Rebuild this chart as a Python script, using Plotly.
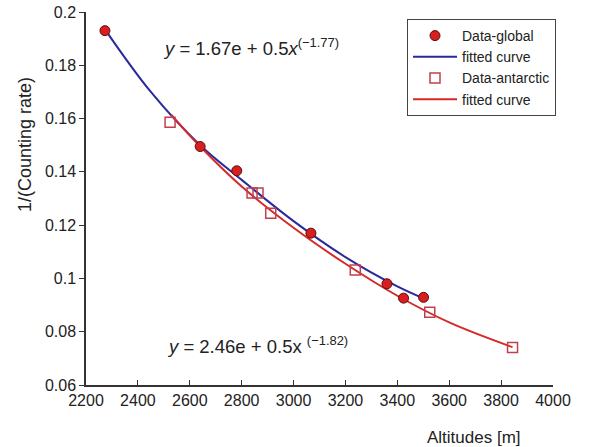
import plotly.graph_objects as go

# Data
global_alt = [2273, 2640, 2781, 3067, 3360, 3424, 3501]
global_val = [0.193, 0.1495, 0.1404, 0.117, 0.098, 0.0926, 0.0929]

antarctic_alt = [2524, 2840, 2863, 2912, 3238, 3525, 3844]
antarctic_val = [0.1586, 0.1321, 0.1321, 0.1245, 0.1032, 0.0873, 0.0741]

fit_global_alt = [2273, 2450, 2640, 2800, 3000, 3200, 3400, 3501]
fit_global_val = [0.1935, 0.170, 0.150, 0.137, 0.1215, 0.108, 0.097, 0.0925]

fit_antarctic_alt = [2528, 2640, 2800, 3000, 3200, 3400, 3600, 3844]
fit_antarctic_val = [0.1615, 0.1495, 0.1345, 0.119, 0.1055, 0.0935, 0.0835, 0.0742]

x_ticks = [2200, 2400, 2600, 2800, 3000, 3200, 3400, 3600, 3800, 4000]
y_ticks = [0.06, 0.08, 0.1, 0.12, 0.14, 0.16, 0.18, 0.2]
y_tick_labels = ["0.06", "0.08", "0.1", "0.12", "0.14", "0.16", "0.18", "0.2"]

BLUE = "#2a2a9c"
RED = "#d42a2a"
SQ = "#c0404e"

fig = go.Figure()
fig.add_trace(go.Scatter(x=fit_global_alt, y=fit_global_val, mode="lines",
                         line=dict(color=BLUE, width=2, shape="spline"),
                         name="fitted curve", legendrank=2))
fig.add_trace(go.Scatter(x=fit_antarctic_alt, y=fit_antarctic_val, mode="lines",
                         line=dict(color=RED, width=2, shape="spline"),
                         name="fitted curve", legendrank=4))
fig.add_trace(go.Scatter(x=antarctic_alt, y=antarctic_val, mode="markers",
                         marker=dict(symbol="square-open", size=10, color=SQ,
                                     line=dict(width=1.5, color=SQ)),
                         name="Data-antarctic", legendrank=3))
fig.add_trace(go.Scatter(x=global_alt, y=global_val, mode="markers",
                         marker=dict(symbol="circle", size=10, color="#d81e1e",
                                     line=dict(width=1, color="#5a1010")),
                         name="Data-global", legendrank=1))

font_family = "Liberation Sans, Arial, sans-serif"

W, H = 592, 447
L, T, R, B = 86, 12, 592 - 553, 447 - 385
pw, ph = W - L - R, H - T - B


def px_to_paper(px, py):
    return (px - L) / pw, (H - B - py) / ph


lx, ly = px_to_paper(556, 19)
ax, ay = px_to_paper(474, 437)
bx, by = px_to_paper(25, 145)

fig.update_layout(
    width=W, height=H,
    margin=dict(l=L, r=R, t=T, b=B, autoexpand=False),
    paper_bgcolor="white", plot_bgcolor="white",
    font=dict(family=font_family, size=16, color="#222222"),
    showlegend=True,
    legend=dict(x=lx, y=ly, xanchor="right", yanchor="top",
                bordercolor="#444444", borderwidth=1, bgcolor="white",
                font=dict(size=14, color="#222222"), itemwidth=44,
                tracegroupgap=0),
    xaxis=dict(range=[2200, 4000], tickvals=x_ticks, ticks="inside", ticklen=5,
               tickcolor="#333333", showline=True, linecolor="#333333", linewidth=1.5,
               showgrid=False, zeroline=False, tickfont=dict(size=16),
               automargin=False, ticklabeloverflow="allow"),
    yaxis=dict(range=[0.06, 0.2], tickvals=y_ticks, ticktext=y_tick_labels,
               ticks="outside", ticklen=5, tickcolor="#333333",
               showline=True, linecolor="#333333", linewidth=1.5,
               showgrid=False, zeroline=False, tickfont=dict(size=16),
               automargin=False, ticklabeloverflow="allow"),
    annotations=[
        dict(text="<i>y</i> = 1.67e + 0.5<i>x</i><sup>(−1.77)</sup>",
             x=2490, y=0.1869, xref="x", yref="y", xanchor="left", yanchor="middle",
             showarrow=False, font=dict(size=18.5)),
        dict(text="<i>y</i> = 2.46e + 0.5x <sup>(−1.82)</sup>",
             x=2505, y=0.0751, xref="x", yref="y", xanchor="left", yanchor="middle",
             showarrow=False, font=dict(size=18.5)),
        dict(text="Altitudes [m]", x=ax, y=ay, xref="paper", yref="paper",
             showarrow=False, font=dict(size=17), xanchor="center", yanchor="middle"),
        dict(text="1/(Counting rate)", textangle=-90, x=bx, y=by, showarrow=False,
             xref="paper", yref="paper", font=dict(size=18),
             xanchor="center", yanchor="middle"),
    ],
)

fig.write_html("out.html", config={"displayModeBar": False},
               post_script="document.body.style.margin='0';")
